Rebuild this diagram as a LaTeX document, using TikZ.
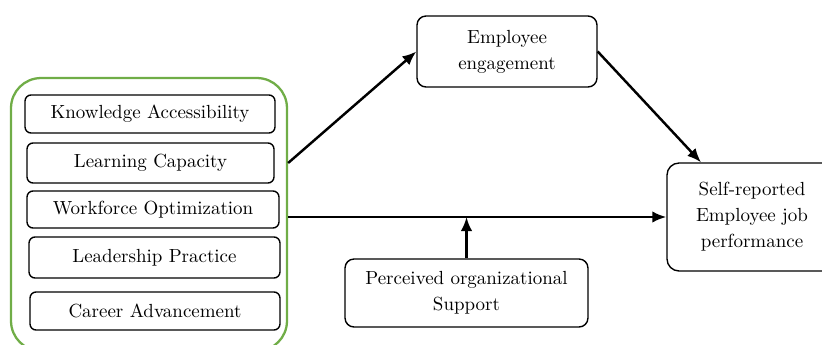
\documentclass[tikz,border=0pt]{standalone}
\usepackage{tikz}
\usetikzlibrary{arrows.meta}
\definecolor{framegreen}{RGB}{112,173,71}
\tikzset{my_model/.style={x=0.02cm,y=-0.02cm,font=\fontsize{10.8}{14.8}\selectfont}}
\tikzset{my_arrow/.style={-{Latex[length=2.8mm,width=2.3mm]},line width=1.4pt}}
\tikzset{my_box/.style={draw,line width=0.8pt,rounded corners=0.18cm,align=center,inner sep=2pt}}
\tikzset{my_factor/.style={my_box,rounded corners=0.12cm}}
\tikzset{my_group/.style={draw=framegreen,line width=1.3pt,rounded corners=0.6cm}}

\begin{document}
\begin{tikzpicture}[my_model]
    \useasboundingbox (0,0) rectangle (822,345);
    %\draw[help lines] (0,0) grid (822,345);
    \node[my_group, minimum width=5.52cm, minimum height=5.46cm] (group) at (149,214.5) {};

    \node[my_factor, minimum width=5cm, minimum height=0.76cm] (know) at (150,114) {Knowledge Accessibility};
    \node[my_factor, minimum width=4.94cm, minimum height=0.8cm] (learn) at (150.5,163) {Learning Capacity};
    \node[my_factor, minimum width=5.04cm, minimum height=0.74cm] (work) at (153,209.5) {Workforce Optimization};
    \node[my_factor, minimum width=5.02cm, minimum height=0.82cm] (lead) at (154.5,257.5) {Leadership Practice};
    \node[my_factor, minimum width=5cm, minimum height=0.76cm] (career) at (155,311) {Career Advancement};

    \node[my_box, minimum width=3.6cm, minimum height=1.42cm] (engage) at (507,51.5) {Employee\\engagement};
    \node[my_box, minimum width=3.4cm, minimum height=2.16cm, rounded corners=0.24cm] (perf) at (752,217) {Self-reported\\Employee job\\performance};
    \node[my_box, minimum width=4.86cm, minimum height=1.36cm] (support) at (466.5,293) {Perceived organizational\\Support};

    \draw[my_arrow] (group.east |- learn) -- (engage.west);
    \draw[my_arrow] (engage.east) -- (perf.133);
    \draw[my_arrow] (group.east |- perf.west) -- (perf.west);
    \draw[my_arrow] (support.north) -- (support.north |- perf.west);
\end{tikzpicture}
\end{document}
